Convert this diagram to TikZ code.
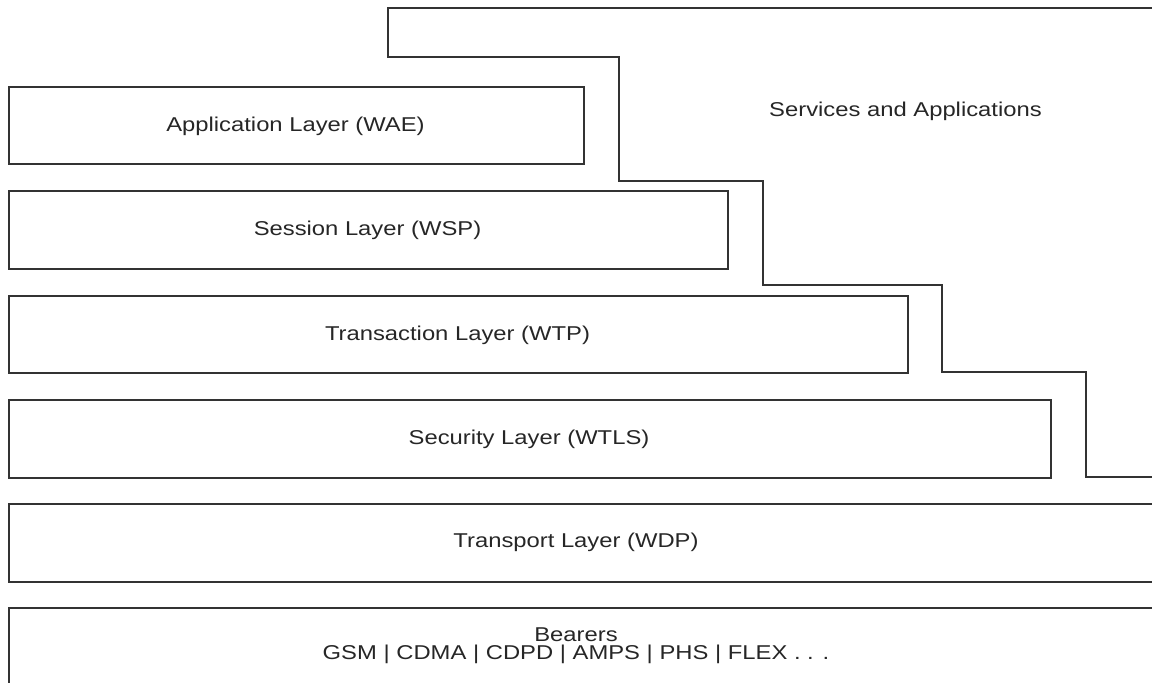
\documentclass[tikz,border=0pt]{standalone}
\usepackage{fontspec}
\setmainfont{Liberation Sans}
% labels are set slightly wide
\newcommand{\widetext}[1]{\scalebox{1.19}[1]{#1}}
\begin{document}
\begin{tikzpicture}[x=0.5pt,y=-0.5pt,
  line/.style={draw=black!80, line width=0.75pt},
  layer/.style={line, rectangle, inner sep=0pt, anchor=north west},
  lbl/.style={font=\fontsize{10pt}{9.15pt}\selectfont, text=black!85, align=center, inner sep=0pt, anchor=base}]
\useasboundingbox (0,0) rectangle (1152,682);
\clip (0,0) rectangle (1152,682);
% protocol layers, stacked top to bottom
\node[layer, minimum width=575pt*0.5, minimum height=77pt*0.5] (wae) at (8,86) {};
\node[layer, minimum width=719pt*0.5, minimum height=78pt*0.5] (wsp) at (8,190) {};
\node[layer, minimum width=899pt*0.5, minimum height=77pt*0.5] (wtp) at (8,295) {};
\node[layer, minimum width=1042pt*0.5, minimum height=78pt*0.5] (wtls) at (8,399) {};
\node[layer, minimum width=1180pt*0.5, minimum height=78pt*0.5] (wdp) at (8,503) {};
\node[layer, minimum width=1180pt*0.5, minimum height=120pt*0.5] (bear) at (8,607) {};
% labels
\node[lbl] (twae) at (295.5,131.4) {\widetext{Application Layer (WAE)}};
\node[lbl] (twsp) at (367.5,235.4) {\widetext{Session Layer (WSP)}};
\node[lbl] (twtp) at (457.5,340.4) {\widetext{Transaction Layer (WTP)}};
\node[lbl] (twtls) at (529,444.4) {\widetext{Security Layer (WTLS)}};
\node[lbl] (twdp) at (576,547.7) {\widetext{Transport Layer (WDP)}};
\node[lbl, anchor=center] (tbear) at (576,646) {\widetext{Bearers}\\\widetext{GSM | CDMA | CDPD | AMPS | PHS | FLEX . . .}};
% services and applications region, stepped along the layers
\coordinate (s0) at (1160,8);
\coordinate (s1) at (1160,477);
\draw[line] (s0) -- (388,8) -- (388,57) -- (619,57) -- (619,181)
  -- (763,181) -- (763,285) -- (942,285) -- (942,372)
  -- (1086,372) -- (1086,477) -- (s1);
\node[lbl] (tsvc) at (905.5,116.7) {\widetext{Services and Applications}};
\end{tikzpicture}
\end{document}
